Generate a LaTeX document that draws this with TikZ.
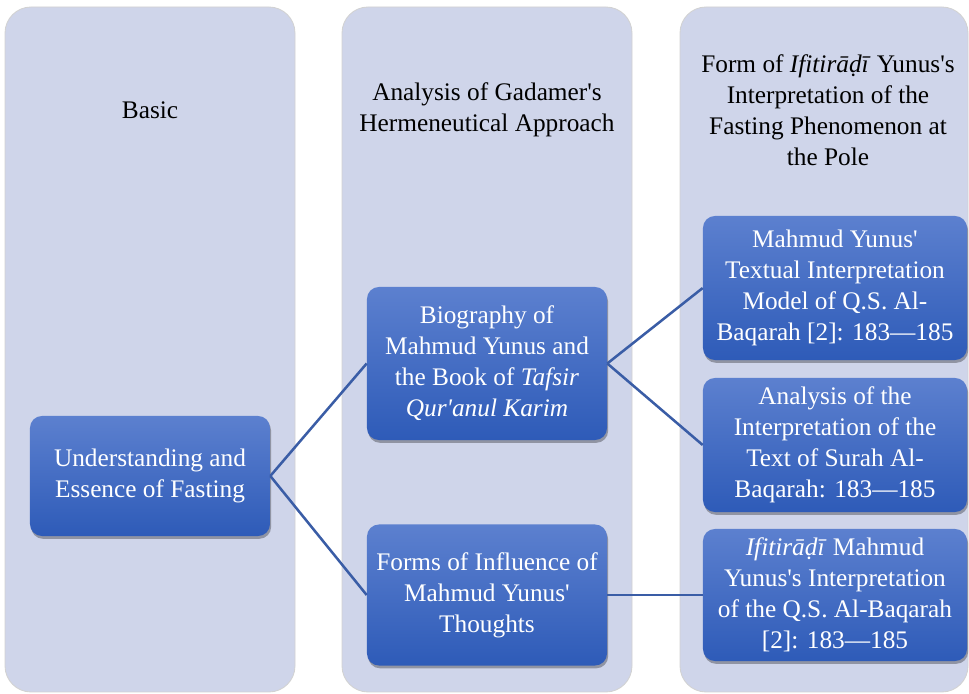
\documentclass[tikz,border=0pt]{standalone}
\usepackage{fontspec}
\setmainfont{Liberation Serif}
\usetikzlibrary{shadows}
\definecolor{colfill}{HTML}{CFD5EA}
\definecolor{boxtop}{HTML}{5C80CF}
\definecolor{boxbottom}{HTML}{2E5BB8}
\definecolor{linkblue}{HTML}{3A5DA6}
\tikzset{
    stage/.style={fill=colfill, draw=gray!35, line width=0.6pt, rounded corners=0.65cm},
    topic/.style={top color=boxtop, bottom color=boxbottom, draw=none, rounded corners=0.3cm,
        text=white, align=center, inner sep=2pt,
        font=\fontsize{18}{22}\selectfont,
        drop shadow={shadow xshift=0.8pt, shadow yshift=-2pt, opacity=0.3, fill=black}},
    heading/.style={align=center, font=\fontsize{18}{22}\selectfont},
    link/.style={draw=linkblue, line width=1.8pt}
}
\newcommand{\apos}{\textquotesingle}
\begin{document}
\begin{tikzpicture}[x=0.025cm, y=-0.025cm]
        % Define the dimensions of the columns
        \def\coltop{7}
        \def\colbottom{692}
        \useasboundingbox (0,0) rectangle (969,694);

        % Draw the three columns
        \draw[stage] (5,\coltop) rectangle (295,\colbottom);
        \draw[stage] (342,\coltop) rectangle (632,\colbottom);
        \draw[stage] (680,\coltop) rectangle (968,\colbottom);

        % Add column headings
        \node[heading] (basic) at (150,110) {Basic};
        \node[heading] (gadamer) at (487,110) {Analysis of Gadamer\apos s\\Hermeneutical Approach};
        \node[heading] (form) at (828,110) {Form of \textit{Ifitirāḍī} Yunus\apos s\\Interpretation of the\\Fasting Phenomenon at\\the Pole};

        % Add the boxes
        \node[topic, minimum width=6cm, minimum height=3cm] (essence) at (150,476)
            {Understanding and\\Essence of Fasting};
        \node[topic, minimum width=6cm, minimum height=3.825cm] (bio) at (487,363.5)
            {Biography of\\Mahmud Yunus and\\the Book of \textit{Tafsir}\\\textit{Qur\apos anul Karim}};
        \node[topic, minimum width=6cm, minimum height=3.525cm] (influence) at (487,595)
            {Forms of Influence of\\Mahmud Yunus\apos\\Thoughts};
        \node[topic, minimum width=6.6cm, minimum height=3.6cm] (model) at (835,288)
            {Mahmud Yunus\apos\\Textual Interpretation\\Model of Q.S. Al-\\Baqarah [2]: 183---185};
        \node[topic, minimum width=6.6cm, minimum height=3.35cm] (analysis) at (835,445)
            {Analysis of the\\Interpretation of the\\Text of Surah Al-\\Baqarah: 183---185};
        \node[topic, minimum width=6.6cm, minimum height=3.3cm] (ifitiradi) at (835,595)
            {\textit{Ifitirāḍī} Mahmud\\Yunus\apos s Interpretation\\of the Q.S. Al-Baqarah\\{[2]}: 183---185};

        % Connect the boxes
        \draw[link] (essence.east) -- (bio.west);
        \draw[link] (essence.east) -- (influence.west);
        \draw[link] (bio.east) -- (model.west);
        \draw[link] (bio.east) -- (analysis.west);
        \draw[link] (influence.east) -- (ifitiradi.west);
    \end{tikzpicture}
\end{document}
